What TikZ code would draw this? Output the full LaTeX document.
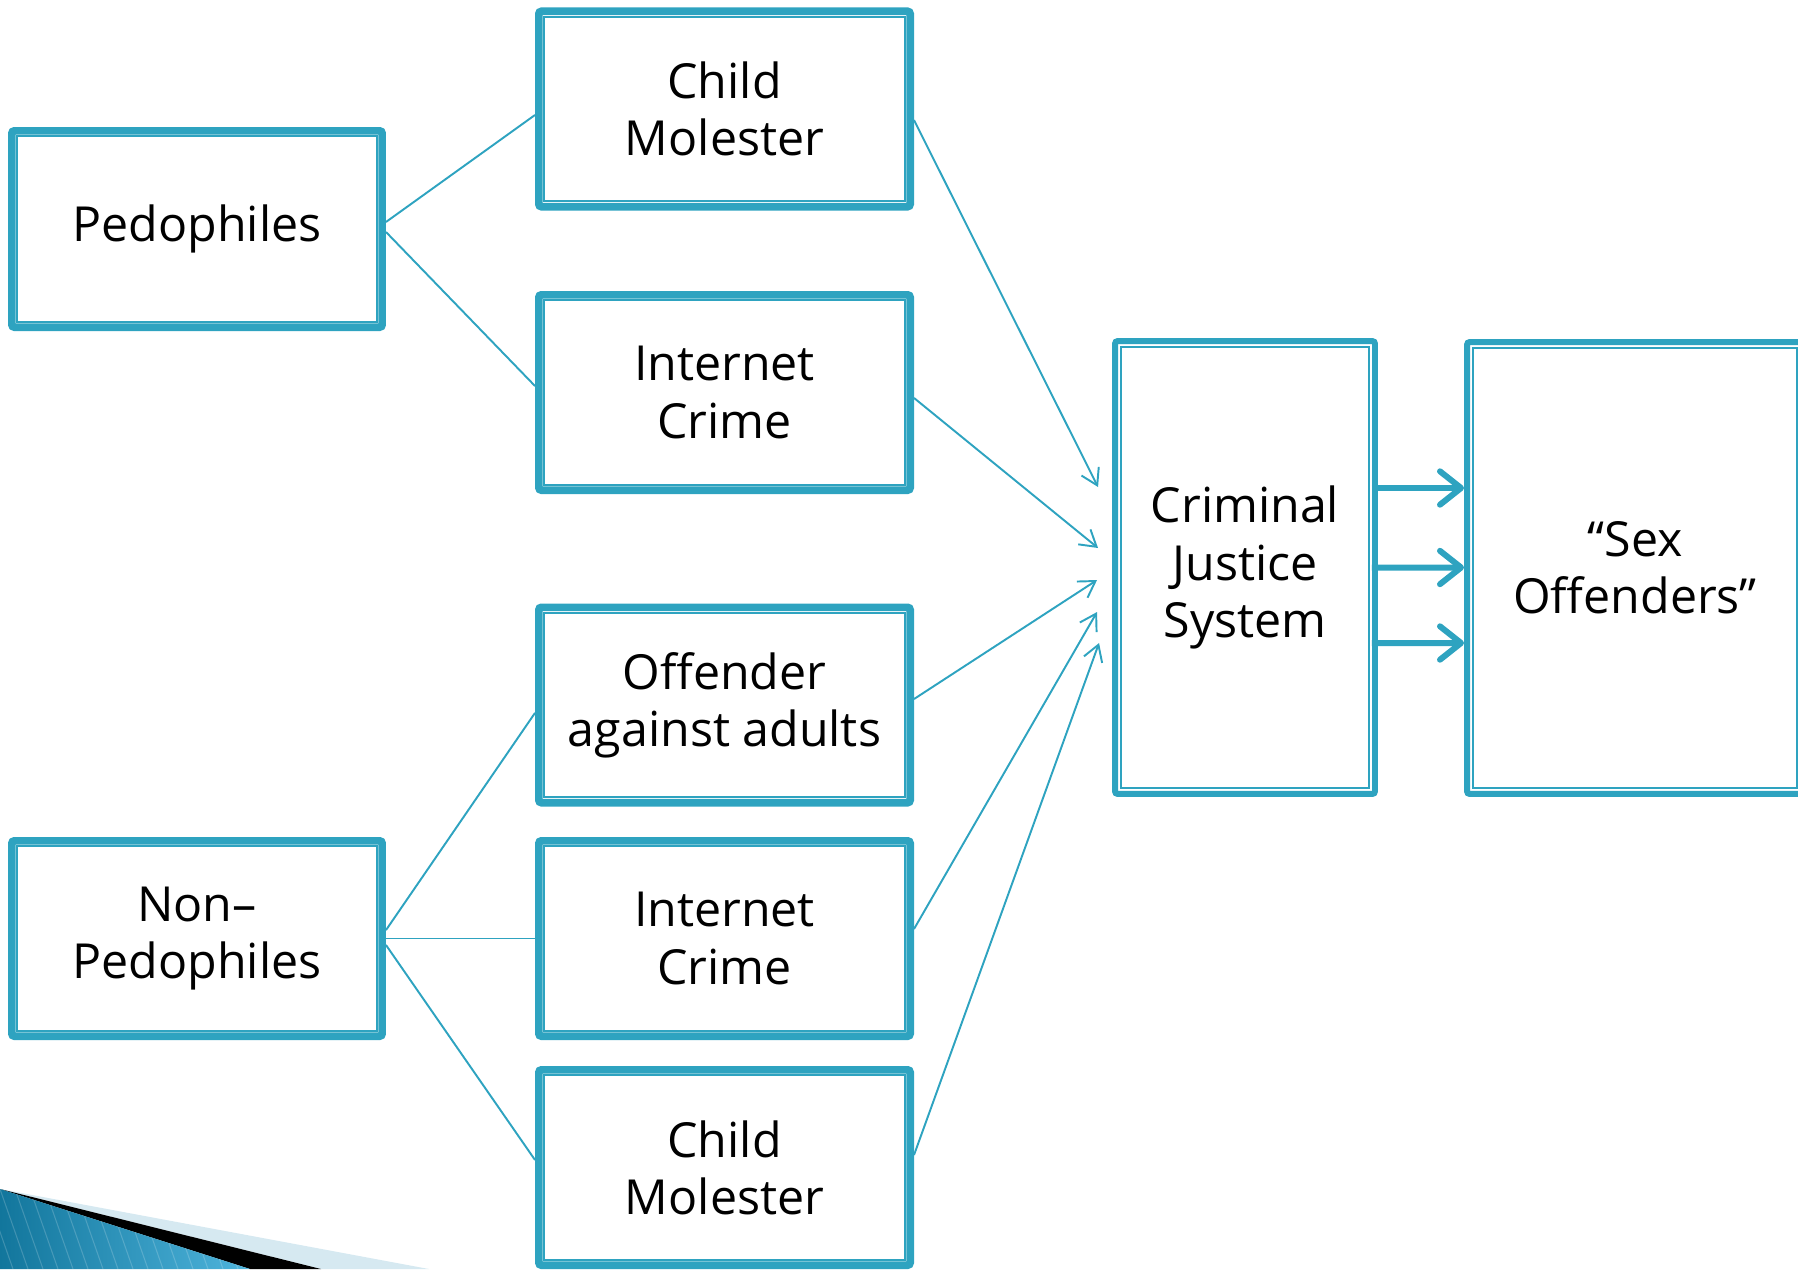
\documentclass[tikz,border=0pt]{standalone}
\usepackage{fontspec}
\setmainfont{Open Sans}
\usetikzlibrary{arrows.meta,calc}
\definecolor{tl}{RGB}{46,163,192}
\definecolor{dk}{RGB}{18,118,156}
\definecolor{lt}{RGB}{78,180,220}
\definecolor{pale}{RGB}{214,233,241}
\begin{document}
\begin{tikzpicture}[x=0.02cm,y=-0.02cm,
  box/.style={draw=tl, line width=#1, rounded corners=1.5pt, fill=white, align=center,
    inner sep=0pt, font=\fontsize{27.5}{32.5}\selectfont,
    path picture={\draw[tl,line width=1.1pt,sharp corners]
      ([shift={(3.2pt,3.2pt)}]path picture bounding box.south west) rectangle
      ([shift={(-3.2pt,-3.2pt)}]path picture bounding box.north east);}},
  box/.default=4.3pt,
  sbox/.style={box, minimum width=7.43cm, minimum height=3.91cm},
  ln/.style={draw=tl, line width=1.1pt},
  arr/.style={ln, -{Straight Barb[length=9pt,width=11pt]}},
  big/.style={draw=tl, line width=3.4pt, -{Straight Barb[length=12pt,width=19pt,round]}}]
\useasboundingbox (0,0) rectangle (1798,1269);
% corner decoration
\fill[pale] (0,1189) -- (429,1269) -- (321,1269) -- cycle;
\fill[black] (0,1189) -- (321,1269) -- (250,1269) -- cycle;
\shade[left color=dk, right color=lt] (0,1189) -- (250,1269) -- (0,1269) -- cycle;
\begin{scope}
  \clip (0,1189) -- (250,1269) -- (0,1269) -- cycle;
  \foreach \i in {-60,-45,...,260} \draw[white, opacity=0.18, line width=0.6pt] (\i,1189) -- (\i+28,1269);
\end{scope}
% boxes
\node[box, minimum width=7.41cm, minimum height=3.93cm] (ped) at (197,229) {Pedophiles};
\node[box, minimum width=7.41cm, minimum height=3.91cm] (nonped) at (197,938.5) {Non–\\Pedophiles};
\node[sbox] (cm1) at (724.5,109) {Child\\Molester};
\node[sbox] (ic1) at (724.5,392.5) {Internet\\Crime};
\node[sbox] (off) at (724.5,705) {Offender\\against adults};
\node[sbox] (ic2) at (724.5,938.5) {Internet\\Crime};
\node[sbox] (cm2) at (724.5,1167.5) {Child\\Molester};
\node[box=3.4pt, minimum width=5.2cm, minimum height=9.06cm] (cjs) at (1245,567.5) {Criminal\\Justice\\System};
\node[box=3.4pt, minimum width=6.72cm, minimum height=9.04cm] (so) at (1635,568) {“Sex\\Offenders”};
% left connectors
\draw[ln] ([yshift=4pt]ped.east) -- ([yshift=-3.4pt]cm1.west);
\draw[ln] ([yshift=-1.7pt]ped.east) -- ([yshift=3.7pt]ic1.west);
\draw[ln] ([yshift=4.8pt]nonped.east) -- ([yshift=-4.5pt]off.west);
\draw[ln] (nonped.east) -- (ic2.west);
\draw[ln] ([yshift=-3.7pt]nonped.east) -- ([yshift=4.3pt]cm2.west);
% arrow tips near CJS
\coordinate (t1) at ($(cjs.west)+(-14,-80.5)$);
\coordinate (t2) at ($(cjs.west)+(-14,-19.5)$);
\coordinate (t3) at ($(cjs.west)+(-15,12.5)$);
\coordinate (t4) at ($(cjs.west)+(-15,44.5)$);
\coordinate (t5) at ($(cjs.west)+(-13,75.5)$);
\draw[arr] ([yshift=-6.3pt]cm1.east) -- (t1);
\draw[arr] ([yshift=-3.1pt]ic1.east) -- (t2);
\draw[arr] ([yshift=3.4pt]off.east) -- (t3);
\draw[arr] ([yshift=5.4pt]ic2.east) -- (t4);
\draw[arr] ([yshift=7.1pt]cm2.east) -- (t5);
% thick arrows
\draw[big] ($(cjs.east)+(-6,-79.5)$) -- ($(so.west)+(0,-80)$);
\draw[big] ($(cjs.east)+(-6,0)$) -- ($(so.west)+(0,-0.5)$);
\draw[big] ($(cjs.east)+(-6,75.5)$) -- ($(so.west)+(0,75)$);
\end{tikzpicture}
\end{document}
